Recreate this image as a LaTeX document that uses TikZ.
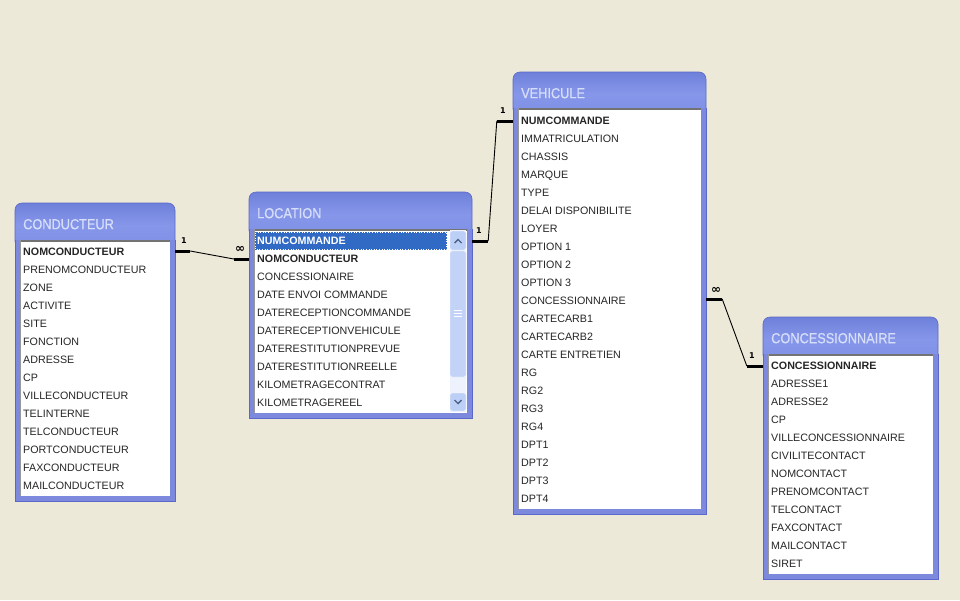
\documentclass[tikz,border=0pt]{standalone}
\usepackage{fontspec}
\setmainfont{Liberation Sans}
\newfontfamily\symfont{DejaVu Sans}
\newfontfamily\titlefont[FakeStretch=0.88,FakeBold=0.6]{Liberation Sans}
\usetikzlibrary{fit,calc}
\definecolor{bg}{HTML}{ECE9D8}
\definecolor{winb}{HTML}{7C89DC}
\definecolor{winout}{HTML}{5B67C9}
\definecolor{ttop}{HTML}{6F80DA}
\definecolor{tmid}{HTML}{8697EA}
\definecolor{tbot}{HTML}{7D8FE5}
\definecolor{ttext}{HTML}{D6DEFA}
\definecolor{sel}{HTML}{316AC5}
\definecolor{sbar}{HTML}{C3D3F8}
\definecolor{sbtn}{HTML}{BCCFF6}
\definecolor{strack}{HTML}{EEF2FC}
\definecolor{arrowc}{HTML}{4D6185}
\tikzset{
 field/.style={anchor=west, inner sep=0pt, font=\fontsize{10.7}{12}\selectfont, text height=7.7pt, text depth=0pt, text=black!85},
 keyfield/.style={field, font=\fontsize{10.7}{12}\selectfont\bfseries},
 wtitle/.style={anchor=west, inner sep=0pt, font=\titlefont\fontsize{14.5}{16}\selectfont, text=ttext, text height=10.4pt, text depth=0pt},
 card/.style={font=\symfont\bfseries\fontsize{8}{9}\selectfont, inner sep=0pt},
 cardinf/.style={font=\symfont\bfseries\fontsize{12}{13}\selectfont, inner sep=0pt},
 thickend/.style={line width=3pt},
 thinlink/.style={line width=0.9pt},
}
\newcommand{\dbwin}[7]{%
 \node[fit={(#2,#3)(#4,#5)}, inner sep=0pt] (#1) {};
 \shade[top color=ttop, bottom color=tbot, middle color=tmid, rounded corners=7pt, draw=winout, line width=0.6pt] (#2,#3) rectangle (#4,#6+8);
 \fill[winb] (#2,#6) rectangle (#4,#5);
 \draw[winout, line width=0.6pt] (#2,#6) -- (#2,#5) -- (#4,#5) -- (#4,#6);
 \fill[white] (#2+5,#6) rectangle (#4-5,#5-5);
 \draw[black!55, line width=1.5pt] (#2+5,#6+0.75) -- (#4-5,#6+0.75);
 \draw[black!40, line width=0.8pt] (#2+5.4,#6) -- (#2+5.4,#5-5);
 \node[wtitle] (#1-t) at (#2+8,#3+21) {#7};
}
\begin{document}
\begin{tikzpicture}[x=1pt,y=-1pt]
\fill[bg] (0,0) rectangle (960,600);
\useasboundingbox (0,0) rectangle (960,600);

% CONDUCTEUR
\dbwin{cond}{15}{203}{175}{501}{240}{CONDUCTEUR}
\node[keyfield] (cond-1) at (23,252) {NOMCONDUCTEUR};
\foreach \t [count=\i from 2] in {PRENOMCONDUCTEUR,ZONE,ACTIVITE,SITE,FONCTION,ADRESSE,CP,VILLECONDUCTEUR,TELINTERNE,TELCONDUCTEUR,PORTCONDUCTEUR,FAXCONDUCTEUR,MAILCONDUCTEUR}
  \node[field] (cond-\i) at (23,{252+18*(\i-1)}) {\t};

% LOCATION
\dbwin{loc}{249}{192}{472}{418}{229}{LOCATION}
\fill[strack] (450,230) rectangle (466,412);
\filldraw[fill=sbar, draw=white, rounded corners=1.5pt] (450,251) rectangle (466,377);
\foreach \g in {310,313,316} \draw[white, line width=0.8pt] (454,\g) -- (462,\g);
\filldraw[fill=sbtn, draw=white, rounded corners=2pt] (450,231) rectangle (466,250);
\draw[arrowc, line width=1.4pt] (454.5,243) -- (458,239.5) -- (461.5,243);
\filldraw[fill=sbtn, draw=white, rounded corners=2pt] (450,393) rectangle (466,411);
\draw[arrowc, line width=1.4pt] (454.5,400) -- (458,403.5) -- (461.5,400);
\fill[sel] (255,232) rectangle (447,250);
\draw[white, dotted, line width=0.6pt] (255.5,232.5) rectangle (446.5,249.5);
\node[keyfield, text=white] (loc-1) at (257,241) {NUMCOMMANDE};
\node[keyfield] (loc-2) at (257,259) {NOMCONDUCTEUR};
\foreach \t [count=\i from 3] in {CONCESSIONAIRE,DATE ENVOI COMMANDE,DATERECEPTIONCOMMANDE,DATERECEPTIONVEHICULE,DATERESTITUTIONPREVUE,DATERESTITUTIONREELLE,KILOMETRAGECONTRAT,KILOMETRAGEREEL}
  \node[field] (loc-\i) at (257,{241+18*(\i-1)}) {\t};

% VEHICULE
\dbwin{veh}{513}{72}{706}{514}{108}{VEHICULE}
\node[keyfield] (veh-1) at (521,121) {NUMCOMMANDE};
\foreach \t [count=\i from 2] in {IMMATRICULATION,CHASSIS,MARQUE,TYPE,DELAI DISPONIBILITE,LOYER,OPTION 1,OPTION 2,OPTION 3,CONCESSIONNAIRE,CARTECARB1,CARTECARB2,CARTE ENTRETIEN,RG,RG2,RG3,RG4,DPT1,DPT2,DPT3,DPT4}
  \node[field] (veh-\i) at (521,{121+18*(\i-1)}) {\t};

% CONCESSIONNAIRE
\dbwin{conc}{763}{317}{938}{579}{354}{CONCESSIONNAIRE}
\node[keyfield] (conc-1) at (771,366) {CONCESSIONNAIRE};
\foreach \t [count=\i from 2] in {ADRESSE1,ADRESSE2,CP,VILLECONCESSIONNAIRE,CIVILITECONTACT,NOMCONTACT,PRENOMCONTACT,TELCONTACT,FAXCONTACT,MAILCONTACT,SIRET}
  \node[field] (conc-\i) at (771,{366+18*(\i-1)}) {\t};

% relation CONDUCTEUR - LOCATION
\coordinate (r1a) at ($(cond.east |- cond-1)+(15,-1)$);
\coordinate (r1b) at ($(loc.west |- loc-2)+(-15,0)$);
\draw[thickend] ($(cond.east |- cond-1)+(0,-1)$) -- (r1a);
\draw[thinlink] (r1a) -- (r1b);
\draw[thickend] (r1b) -- (loc.west |- loc-2);
\node[card] (r1one) at (184,241) {1};
\node[cardinf] (r1inf) at (240,249) {∞};

% relation LOCATION - VEHICULE
\coordinate (r2a) at ($(loc.east |- loc-1)+(16,0)$);
\coordinate (r2b) at ($(veh.west |- veh-1)+(-16,0)$);
\draw[thickend] (loc.east |- loc-1) -- (r2a);
\draw[thinlink] (r2a) -- (r2b);
\draw[thickend] (r2b) -- (veh.west |- veh-1);
\node[card] (r2one) at (479,231) {1};
\node[card] (r2two) at (503,111) {1};

% relation VEHICULE - CONCESSIONNAIRE
\coordinate (r3a) at ($(veh.east |- veh-11)+(16,-2)$);
\coordinate (r3b) at ($(conc.west |- conc-1)+(-16,0)$);
\draw[thickend] ($(veh.east |- veh-11)+(0,-2)$) -- (r3a);
\draw[thinlink] (r3a) -- (r3b);
\draw[thickend] (r3b) -- (conc.west |- conc-1);
\node[cardinf] (r3inf) at (716,290) {∞};
\node[card] (r3one) at (752,356) {1};
\end{tikzpicture}
\end{document}
